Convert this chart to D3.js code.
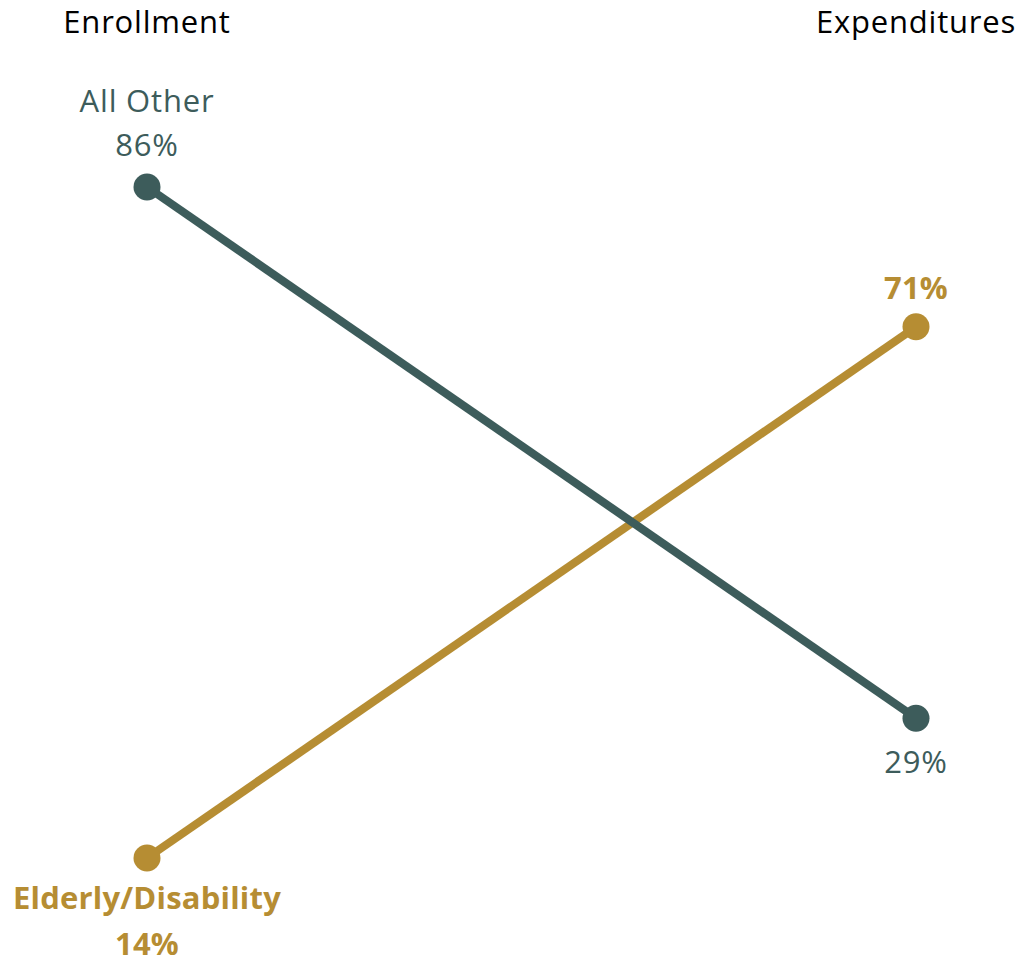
<!DOCTYPE html>
<html><head><meta charset="utf-8">
<script src="https://cdn.jsdelivr.net/npm/d3@7"></script>
<style>body{margin:0;background:#fff}svg{display:block}</style>
</head><body>
<script>
const categories = ["Enrollment", "Expenditures"];
const seriesNames = ["All Other", "Elderly/Disability"];
const allOther = [86, 29];
const elderly = [14, 71];

const W = 1022, H = 963;
const svg = d3.select("body").append("svg").attr("width", W).attr("height", H);
const font = "'Open Sans', sans-serif";
const x = d3.scalePoint().domain(categories).range([147, 916]);
const y = d3.scaleLinear().domain([14, 86]).range([858, 187]);

// column headers
svg.selectAll("text.hdr").data(categories).enter().append("text")
  .attr("class", "hdr")
  .attr("x", d => x(d)).attr("y", 33)
  .attr("text-anchor", "middle")
  .style("font-family", font).style("font-size", "31px").style("letter-spacing", "0.8px").style("fill", "#000")
  .text(d => d);

const series = [
  {name: seriesNames[0], values: allOther, color: "#3D5C5B", weight: 400},
  {name: seriesNames[1], values: elderly, color: "#B68D33", weight: 700}
];

const line = d3.line().x((d, i) => x(categories[i])).y(d => y(d));

// draw gold first so teal sits on top (as in reference)
series.slice().reverse().forEach(s => {
  svg.append("path").attr("d", line(s.values))
    .attr("fill", "none").attr("stroke", s.color).attr("stroke-width", 8.2);
  svg.selectAll(null).data(s.values).enter().append("circle")
    .attr("cx", (d, i) => x(categories[i])).attr("cy", d => y(d))
    .attr("r", 13.5).attr("fill", s.color);
});

function txt(xx, yy, t, color, weight) {
  svg.append("text").attr("x", xx).attr("y", yy).attr("text-anchor", "middle")
    .style("font-family", font).style("font-size", "31px")
    .style("letter-spacing", weight === 700 ? "0.2px" : "0.8px")
    .style("font-weight", weight).style("fill", color).text(t);
}
const fmt = v => v + "%";
// All Other labels
txt(x(categories[0]), y(allOther[0]) - 75, series[0].name, series[0].color, 400);
txt(x(categories[0]), y(allOther[0]) - 31, fmt(allOther[0]), series[0].color, 400);
txt(x(categories[1]), y(allOther[1]) + 55, fmt(allOther[1]), series[0].color, 400);
// Elderly labels
txt(x(categories[0]), y(elderly[0]) + 51, series[1].name, series[1].color, 700);
txt(x(categories[0]), y(elderly[0]) + 97, fmt(elderly[0]), series[1].color, 700);
txt(x(categories[1]), y(elderly[1]) - 28, fmt(elderly[1]), series[1].color, 700);
</script>
</body></html>
